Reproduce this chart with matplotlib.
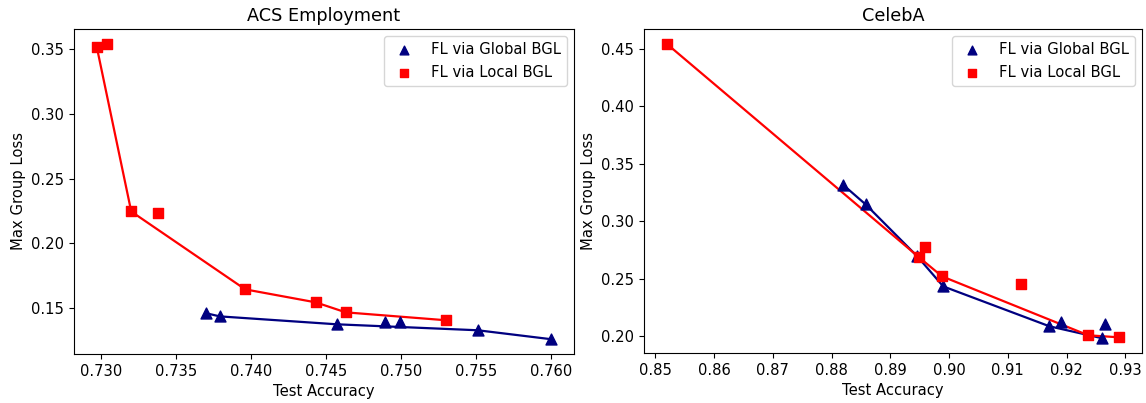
import numpy as np
import matplotlib
matplotlib.use("Agg")
import matplotlib.pyplot as plt

plt.rcParams['font.size'] = 10.6

# ACS Employment
acs_global_acc = [0.7370, 0.7379, 0.7457, 0.7489, 0.7499, 0.7551, 0.7600]
acs_global_loss = [0.1462, 0.1438, 0.1377, 0.1392, 0.1392, 0.1331, 0.1262]
acs_global_front = [0, 1, 2, 5, 6]

acs_local_acc = [0.7297, 0.7304, 0.7320, 0.7338, 0.7396, 0.7443, 0.7463, 0.7530]
acs_local_loss = [0.3515, 0.3538, 0.2246, 0.2231, 0.1646, 0.1546, 0.1469, 0.1408]
acs_local_front = [0, 2, 4, 5, 6, 7]

# CelebA
celeba_global_acc = [0.8819, 0.8858, 0.8946, 0.8990, 0.9171, 0.9190, 0.9261, 0.9266]
celeba_global_loss = [0.3319, 0.3146, 0.2694, 0.2434, 0.2087, 0.2122, 0.1983, 0.2104]
celeba_global_front = [0, 1, 2, 3, 4, 6]

celeba_local_acc = [0.8519, 0.8949, 0.8959, 0.8988, 0.9122, 0.9237, 0.9290]
celeba_local_loss = [0.4543, 0.2686, 0.2773, 0.2521, 0.2451, 0.2009, 0.1991]
celeba_local_front = [0, 1, 3, 5, 6]

panels = [
    ("ACS Employment", acs_global_acc, acs_global_loss, acs_global_front,
     acs_local_acc, acs_local_loss, acs_local_front),
    ("CelebA", celeba_global_acc, celeba_global_loss, celeba_global_front,
     celeba_local_acc, celeba_local_loss, celeba_local_front),
]

fig = plt.figure(figsize=(11.46, 4.03), dpi=100)
W, H = 1146, 403
boxes = [(74, 29, 574, 354), (644, 29, 1142, 353)]

for (title, ga, gl, gf, la, ll, lf), (x0, y0, x1, y1) in zip(panels, boxes):
    ax = fig.add_axes([x0 / W, 1 - y1 / H, (x1 - x0) / W, (y1 - y0) / H])
    ga, gl, la, ll = map(np.array, (ga, gl, la, ll))
    ax.scatter(ga, gl, marker='^', s=62, color='navy', label='FL via Global BGL', zorder=3)
    ax.scatter(la, ll, marker='s', s=62, color='red', label='FL via Local BGL', zorder=3)
    ax.plot(ga[gf], gl[gf], color='navy', lw=1.6, zorder=2)
    ax.plot(la[lf], ll[lf], color='red', lw=1.6, zorder=2)
    ax.set_title(title, fontsize=12.7)
    ax.set_xlabel('Test Accuracy')
    ax.set_ylabel('Max Group Loss')
    ax.legend(loc='upper right', markerscale=0.8)

fig.savefig('out.png', dpi=100)
